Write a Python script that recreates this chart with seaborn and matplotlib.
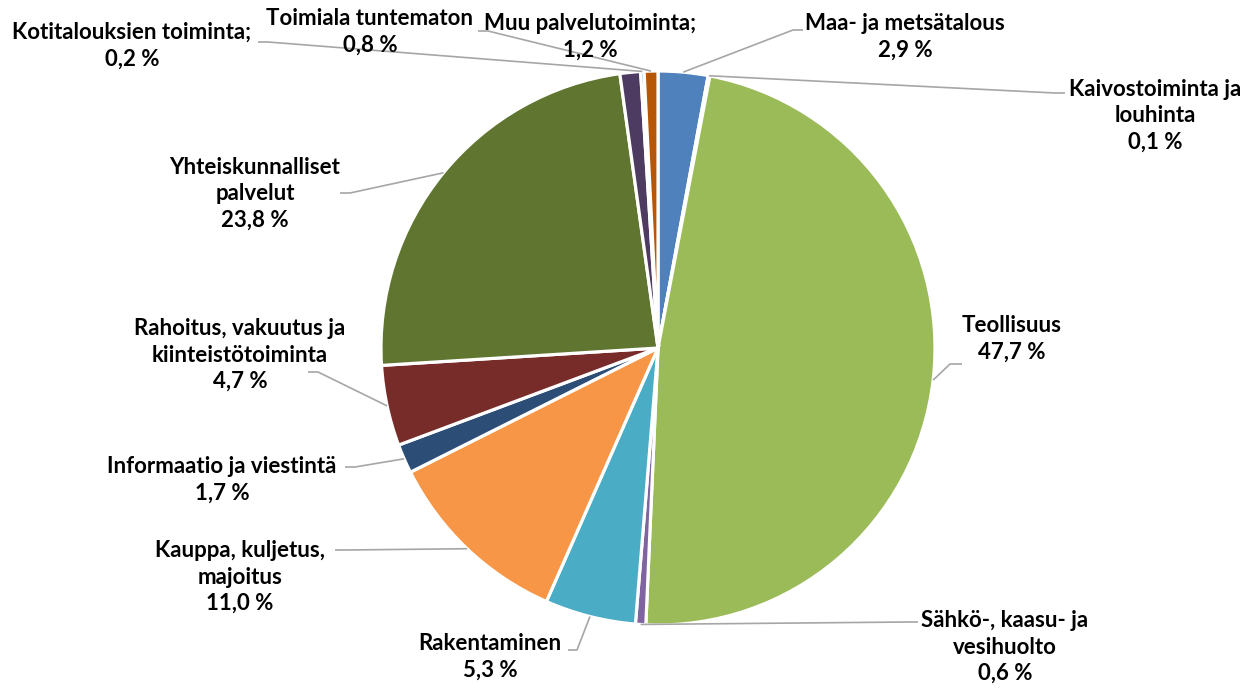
import numpy as np
import matplotlib.pyplot as plt
import seaborn as sns

sns.set_theme(style="white")
plt.rcParams['font.family'] = ['Lato', 'DejaVu Sans']

# data: clockwise from 12 o'clock
names = [
    "Maa- ja metsätalous",
    "Kaivostoiminta ja\nlouhinta",
    "Teollisuus",
    "Sähkö-, kaasu- ja\nvesihuolto",
    "Rakentaminen",
    "Kauppa, kuljetus,\nmajoitus",
    "Informaatio ja viestintä",
    "Rahoitus, vakuutus ja\nkiinteistötoiminta",
    "Yhteiskunnalliset\npalvelut",
    "Muu palvelutoiminta;",
    "Kotitalouksien toiminta;",
    "Toimiala tuntematon",
]
shares = [2.9, 0.1, 47.7, 0.6, 5.3, 11.0, 1.7, 4.7, 23.8, 1.2, 0.2, 0.8]
colors = sns.color_palette(["#4F81BD", "#C0504D", "#9BBB59", "#8064A2", "#4BACC6", "#F79646",
                            "#2C4D75", "#772C2A", "#5F7530", "#4D3B62", "#276A7C", "#B65708"])

# layout (pixels, measured from the top-left of the picture)
W, H = 1259, 689
center = (658, 348)
radius = 277
label_pos = [(905, 37), (1155, 116), (1012, 339), (1005, 647), (490, 657), (240, 577),
             (222, 480), (240, 355), (255, 194), (590, 37), (132, 46), (370, 32)]
# leader line: start point at label and length of horizontal stub
leaders = [((803, 30), -10), ((1065, 93), -10), ((962, 364), -12), ((918, 622), -10),
           ((568, 650), 9), ((335, 550), 10), ((345, 467), 10), ((308, 372), 10),
           ((340, 193), 10), None, ((258, 42), 10), ((478, 31), 10)]

fig = plt.figure(figsize=(W / 100, H / 100), dpi=100)
ax = fig.add_axes([0, 0, 1, 1])
ax.set_xlim(0, W)
ax.set_ylim(0, H)
ax.set_aspect('equal')
ax.axis('off')

cx, cy = center[0], H - center[1]
ax.pie(shares, colors=colors, startangle=90, counterclock=False, radius=radius,
       center=(cx, cy), wedgeprops=dict(edgecolor='white', linewidth=2.3))
ax.set_xlim(0, W)
ax.set_ylim(0, H)

cum = np.cumsum(shares) - np.array(shares) / 2
for i, name in enumerate(names):
    pct = f"{shares[i]:.1f}".replace('.', ',') + " %"
    x, y = label_pos[i]
    ax.text(x, H - y, f"{name}\n{pct}", ha='center', va='center', multialignment='center',
            fontsize=16, fontweight='bold', color='black', linespacing=1.33, zorder=5)
    if leaders[i] is None:
        continue
    (sx, sy), stub = leaders[i]
    ang = np.deg2rad(90 - cum[i] / 100 * 360)
    ex, ey = cx + radius * np.cos(ang), cy + radius * np.sin(ang)
    ax.plot([sx, sx + stub, ex], [H - sy, H - sy, ey], color='#A6A6A6', lw=1.2,
            solid_capstyle='butt', zorder=4)

fig.savefig("out.png", dpi=100, facecolor='white')
